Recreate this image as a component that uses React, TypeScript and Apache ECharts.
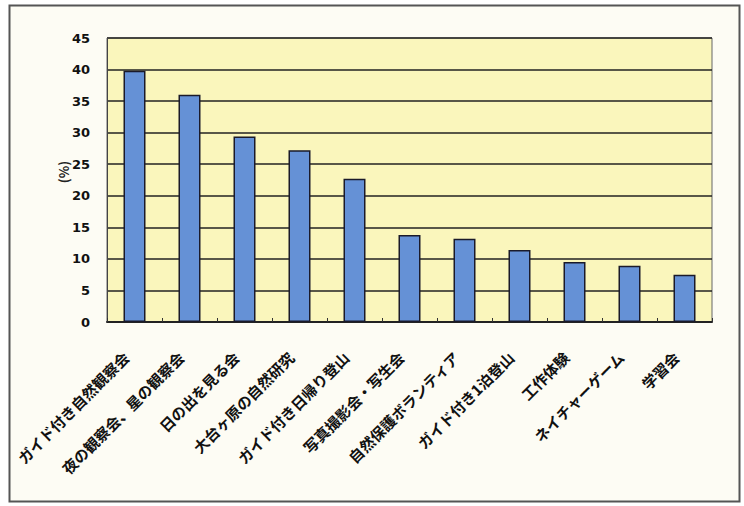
import React, { useEffect, useRef } from "react";
import * as echarts from "echarts";

const categories = [
  "ガイド付き自然観察会",
  "夜の観察会、星の観察会",
  "日の出を見る会",
  "大台ヶ原の自然研究",
  "ガイド付き日帰り登山",
  "写真撮影会・写生会",
  "自然保護ボランティア",
  "ガイド付き1泊登山",
  "工作体験",
  "ネイチャーゲーム",
  "学習会",
];
const values = [39.8, 36.0, 29.4, 27.2, 22.7, 13.8, 13.2, 11.4, 9.5, 8.9, 7.5];
const yTicks = { min: 0, max: 45, interval: 5 };
const yName = "(%)";

export default function App() {
  const ref = useRef<HTMLDivElement>(null);
  useEffect(() => {
    if (!ref.current) return;
    const chart = echarts.init(ref.current, null, { renderer: "svg" });
    const font = "'Noto Sans CJK JP', 'Noto Sans', sans-serif";
    chart.setOption({
      animation: false,
      backgroundColor: "#ffffff",
      graphic: [
        {
          type: "rect",
          shape: { x: 9.5, y: 5.5, width: 730, height: 496 },
          style: { fill: "#fdfcf4", stroke: "#555", lineWidth: 2 },
          z: -10,
        },
        {
          type: "text",
          x: 63,
          y: 172,
          rotation: Math.PI / 2,
          style: {
            text: yName,
            fill: "#222",
            fontWeight: "bold",
            fontSize: 13,
            fontFamily: font,
            align: "center",
            verticalAlign: "middle",
          },
        },
      ],
      grid: {
        left: 107,
        right: 32,
        top: 38,
        bottom: 184,
        show: true,
        backgroundColor: "#faf6bc",
        borderColor: "#666",
        borderWidth: 1,
      },
      xAxis: {
        type: "category",
        data: categories,
        axisLine: { lineStyle: { color: "#222", width: 2 } },
        axisTick: { show: true, inside: true, length: 4, lineStyle: { color: "#333" } },
        axisLabel: {
          rotate: 45,
          interval: 0,
          margin: 24,
          padding: [0, 12, 0, 0],
          color: "#111",
          fontWeight: "bold",
          fontSize: 15,
          fontFamily: font,
        },
      },
      yAxis: {
        type: "value",
        min: yTicks.min,
        max: yTicks.max,
        interval: yTicks.interval,
        axisLine: { show: true, lineStyle: { color: "#444", width: 1 } },
        axisTick: { show: false },
        axisLabel: {
          margin: 17,
          color: "#111",
          fontWeight: "bold",
          fontSize: 13,
          fontFamily: "'DejaVu Sans', sans-serif",
        },
        splitLine: { lineStyle: { color: "#222", width: 1.5 } },
      },
      series: [
        {
          type: "bar",
          data: values,
          barWidth: "40%",
          itemStyle: { color: "#6591d6", borderColor: "#1a1a2a", borderWidth: 1.5 },
        },
      ],
    });
    return () => chart.dispose();
  }, []);
  return (
    <div
      ref={ref}
      style={{ position: "fixed", left: 0, top: 0, width: 744, height: 506 }}
    />
  );
}
